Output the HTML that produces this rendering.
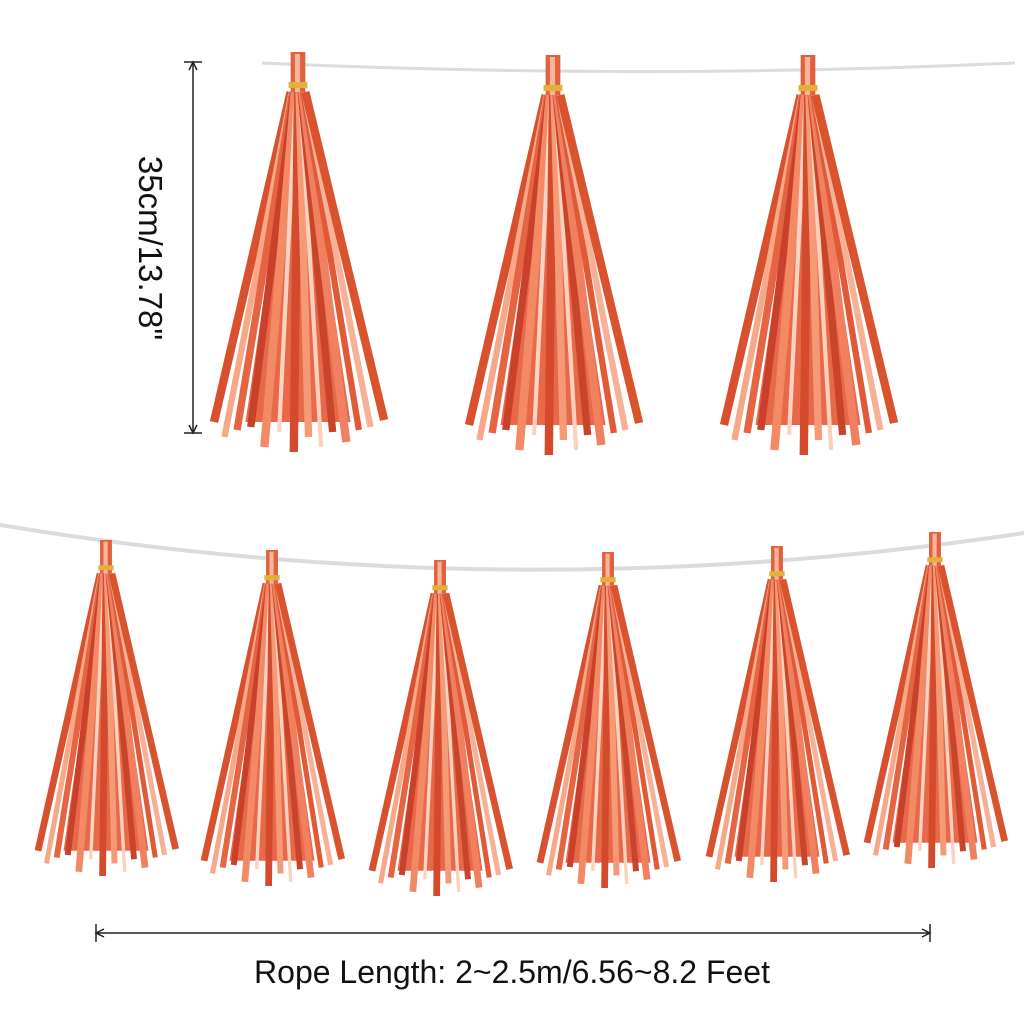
<!DOCTYPE html>
<html><head><meta charset="utf-8"><style>
html,body{margin:0;padding:0;background:#fff;}
svg{display:block}
</style></head><body>
<svg width="1024" height="1024" viewBox="0 0 1024 1024" xmlns="http://www.w3.org/2000/svg">
<defs>
<g id="t">
  <polygon points="-6,60 6,60 50,370 -50,370" fill="#e8694a"/>
  <rect x="-7" y="0" width="14" height="45" fill="#e2603d"/>
  <rect x="-3" y="2" width="5" height="40" fill="#f6b49a"/>
  <rect x="-9" y="30" width="18" height="6" fill="#e0b23a"/>
  <g stroke-linecap="butt" fill="none">
    <line x1="-7" y1="40" x2="-80" y2="370" stroke="#d9502f" stroke-width="8"/>
    <line x1="-6" y1="40" x2="-70" y2="385" stroke="#f7a889" stroke-width="6"/>
    <line x1="-5" y1="40" x2="-58" y2="378" stroke="#e56442" stroke-width="7"/>
    <line x1="-4" y1="40" x2="-45" y2="375" stroke="#c9412a" stroke-width="7"/>
    <line x1="-3" y1="40" x2="-32" y2="395" stroke="#f28a66" stroke-width="8"/>
    <line x1="-2" y1="40" x2="-18" y2="380" stroke="#fbd3c2" stroke-width="4"/>
    <line x1="0" y1="40" x2="-4" y2="400" stroke="#d34a2c" stroke-width="8"/>
    <line x1="1" y1="40" x2="10" y2="385" stroke="#f59a77" stroke-width="7"/>
    <line x1="2" y1="40" x2="22" y2="395" stroke="#fbd0bc" stroke-width="4"/>
    <line x1="3" y1="40" x2="33" y2="380" stroke="#c8442a" stroke-width="7"/>
    <line x1="4" y1="40" x2="46" y2="390" stroke="#f08060" stroke-width="8"/>
    <line x1="5" y1="40" x2="58" y2="378" stroke="#e05a38" stroke-width="6"/>
    <line x1="6" y1="40" x2="69" y2="375" stroke="#f7b196" stroke-width="6"/>
    <line x1="7" y1="40" x2="82" y2="368" stroke="#d9532f" stroke-width="8"/>
  </g>
</g>
</defs>
<path d="M262,63 Q640,80 1015,63" stroke="#dcdcdc" stroke-width="3" fill="none"/>
<path d="M0,525 Q512,610 1024,533" stroke="#dcdcdc" stroke-width="4" fill="none"/>
<use href="#t" transform="translate(298,52) scale(1.05,1.0)"/>
<use href="#t" transform="translate(553,55) scale(1.05,1.0)"/>
<use href="#t" transform="translate(808,55) scale(1.05,1.0)"/>
<use href="#t" transform="translate(106,540) scale(0.85,0.84)"/>
<use href="#t" transform="translate(272,550) scale(0.85,0.84)"/>
<use href="#t" transform="translate(440,560) scale(0.85,0.84)"/>
<use href="#t" transform="translate(608,552) scale(0.85,0.84)"/>
<use href="#t" transform="translate(777,546) scale(0.85,0.84)"/>
<use href="#t" transform="translate(935,532) scale(0.85,0.84)"/>
<g stroke="#222" stroke-width="1.5" fill="none">
  <line x1="193" y1="62" x2="193" y2="433"/>
  <line x1="184" y1="62" x2="202" y2="62"/>
  <line x1="184" y1="433" x2="202" y2="433"/>
  <path d="M189,70 L193,62 L197,70"/>
  <path d="M189,425 L193,433 L197,425"/>
  <line x1="96" y1="933" x2="930" y2="933"/>
  <line x1="96" y1="924" x2="96" y2="942"/>
  <line x1="930" y1="924" x2="930" y2="942"/>
  <path d="M104,929 L96,933 L104,937"/>
  <path d="M922,929 L930,933 L922,937"/>
</g>
<text x="0" y="0" transform="translate(139,248) rotate(90)" text-anchor="middle" font-family="Liberation Sans, sans-serif" font-size="33" fill="#111">35cm/13.78"</text>
<text x="512" y="983" text-anchor="middle" font-family="Liberation Sans, sans-serif" font-size="32" fill="#111">Rope Length: 2~2.5m/6.56~8.2 Feet</text>
</svg>
</body></html>
